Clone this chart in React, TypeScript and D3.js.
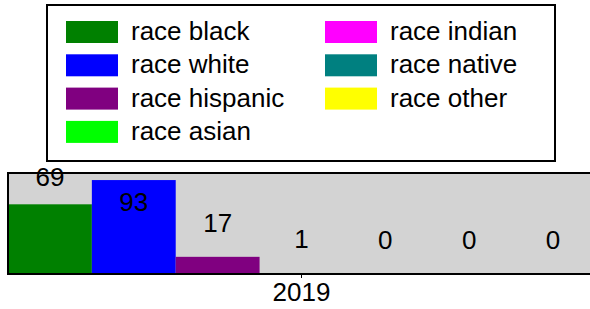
import { useEffect, useRef } from "react";
import * as d3 from "d3";

const years = ["2019"];
const races = [
  "race black",
  "race white",
  "race hispanic",
  "race asian",
  "race indian",
  "race native",
  "race other",
];
const counts2019 = [69, 93, 17, 1, 0, 0, 0];
const raceColors = [
  "#008000",
  "#0000ff",
  "#800080",
  "#00ff00",
  "#ff00ff",
  "#008080",
  "#ffff00",
];
const yTicks = [0, 100];

const font = "Arial, 'Liberation Sans', sans-serif";

export default function App() {
  const svgRef = useRef<SVGSVGElement>(null);

  useEffect(() => {
    if (!svgRef.current) return;
    const svg = d3.select(svgRef.current);
    svg.selectAll("*").remove();

    // plot area
    const left = 8;
    const right = 595;
    const top = 173;
    const bottom = 274;

    const x0 = d3.scaleBand<string>().domain(years).range([left, right]);
    const x1 = d3
      .scaleBand<string>()
      .domain(races)
      .range([0, x0.bandwidth()])
      .padding(0);
    const y = d3
      .scaleLinear()
      .domain([yTicks[0], yTicks[yTicks.length - 1]])
      .range([bottom, top]);

    svg
      .append("rect")
      .attr("x", left)
      .attr("y", top)
      .attr("width", right - left)
      .attr("height", bottom - top)
      .attr("fill", "#d3d3d3");

    const rows = races.map((r, i) => ({
      race: r,
      value: counts2019[i],
      color: raceColors[i],
    }));

    const g = svg
      .append("g")
      .attr("transform", `translate(${x0("2019")},0)`);

    g.selectAll("rect.bar")
      .data(rows)
      .enter()
      .append("rect")
      .attr("class", "bar")
      .attr("x", (d) => x1(d.race)!)
      .attr("y", (d) => y(d.value))
      .attr("width", x1.bandwidth())
      .attr("height", (d) => bottom - y(d.value))
      .attr("fill", (d) => d.color);

    // value labels: above the bar, pushed down to fit under the frame,
    // or inside the bar if there's no room left
    const labelY = (v: number) => {
      const above = y(v) - 25;
      const minBase = top + 13;
      if (above >= minBase) return above;
      if (minBase < y(v)) return minBase;
      return y(v) + 31;
    };

    g.selectAll("text.val")
      .data(rows)
      .enter()
      .append("text")
      .attr("class", "val")
      .attr("x", (d) => x1(d.race)! + x1.bandwidth() / 2)
      .attr("y", (d) => labelY(d.value))
      .attr("text-anchor", "middle")
      .attr("font-family", font)
      .attr("font-size", 26)
      .attr("fill", "#000")
      .text((d) => d.value);

    // frame
    svg
      .append("rect")
      .attr("x", left)
      .attr("y", top)
      .attr("width", right - left)
      .attr("height", bottom - top)
      .attr("fill", "none")
      .attr("stroke", "#000")
      .attr("stroke-width", 2);

    // x axis
    const axis = svg
      .append("g")
      .attr("transform", `translate(0,${bottom})`)
      .call(d3.axisBottom(x0).tickSize(4).tickSizeOuter(0));
    axis.select(".domain").remove();
    axis.selectAll("line").attr("stroke", "#000");
    axis
      .selectAll("text")
      .attr("font-family", font)
      .attr("font-size", 26)
      .attr("fill", "#000")
      .attr("dy", 0)
      .attr("y", 27);

    // legend
    const legend = svg.append("g");
    legend
      .append("rect")
      .attr("x", 47)
      .attr("y", 5)
      .attr("width", 508)
      .attr("height", 156)
      .attr("fill", "#fff")
      .attr("stroke", "#000")
      .attr("stroke-width", 2);

    const items = legend
      .selectAll("g.item")
      .data(rows)
      .enter()
      .append("g")
      .attr("class", "item")
      .attr("transform", (d, i) => {
        const col = i < 4 ? 0 : 1;
        const row = i < 4 ? i : i - 4;
        return `translate(${66 + col * 259},${21 + row * 33.3})`;
      });

    items
      .append("rect")
      .attr("width", 52)
      .attr("height", 22)
      .attr("fill", (d) => d.color);

    items
      .append("text")
      .attr("x", 65)
      .attr("y", 19)
      .attr("font-family", font)
      .attr("font-size", 26)
      .attr("fill", "#000")
      .text((d) => d.race);
  }, []);

  return (
    <svg
      ref={svgRef}
      width={590}
      height={309}
      style={{ position: "absolute", left: 0, top: 0, overflow: "hidden" }}
    />
  );
}
